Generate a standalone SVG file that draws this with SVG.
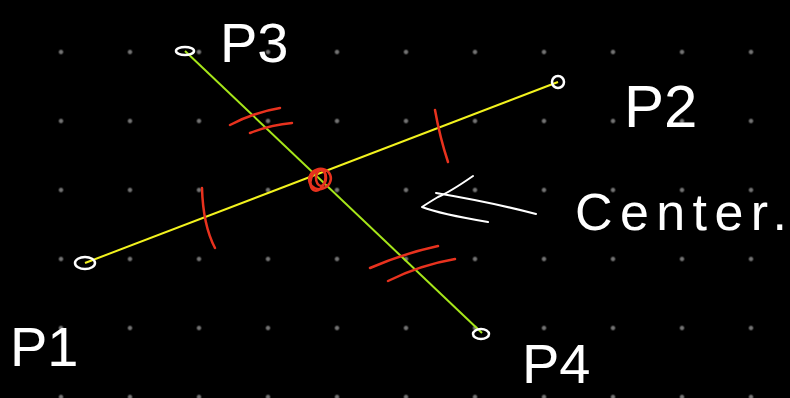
<svg xmlns="http://www.w3.org/2000/svg" width="790" height="398" viewBox="0 0 790 398">
<defs>
<pattern id="grid" x="26.5" y="17.5" width="69" height="69" patternUnits="userSpaceOnUse">
<circle cx="34.5" cy="34.5" r="2.2" fill="#737373"/>
</pattern>
<style>
.lbl{font-family:"Liberation Sans","DejaVu Sans",sans-serif;fill:#ffffff;font-weight:normal}
.ink{fill:none;stroke:#ffffff;stroke-width:2;stroke-linecap:round;stroke-linejoin:round}
.red{fill:none;stroke:#e8321e;stroke-width:2.5;stroke-linecap:round}
.pt{fill:none;stroke:#ffffff;stroke-width:2.5}
</style>
</defs>
<rect width="790" height="398" fill="#000000"/>
<rect width="790" height="398" fill="url(#grid)"/>
<g id="connectors">
<line x1="85" y1="263" x2="558" y2="82" stroke="#f2f21e" stroke-width="2"/>
<line x1="185" y1="51" x2="482" y2="333" stroke="#a6e61a" stroke-width="2"/>
<path class="red" d="M230 125 Q255 112 280 108 M250 133 Q270 125 292 123"/>
<path class="red" d="M370 268 Q405 253 438 246 M388 281 Q420 265 455 259"/>
<path class="red" d="M202 188 Q203 225 215 248"/>
<path class="red" d="M435 110 Q440 138 448 162"/>
</g>
<g id="center">
<ellipse cx="320" cy="179" rx="11" ry="10" class="red" stroke-width="3" transform="rotate(-20 320 179)"/>
<ellipse cx="318" cy="180" rx="7" ry="11" class="red" stroke-width="3" transform="rotate(20 318 180)"/>
<ellipse cx="321" cy="178" rx="5" ry="8" class="red" stroke-width="2.5"/>
</g>
<g id="P1">
<ellipse cx="85" cy="263" rx="10" ry="6" class="pt"/>
<text class="lbl" x="10" y="366" font-size="56">P1</text>
</g>
<g id="P2">
<circle cx="558" cy="82" r="6" class="pt" stroke-width="3.5"/>
<text class="lbl" x="624" y="127" font-size="60">P2</text>
</g>
<g id="P3">
<ellipse cx="185" cy="51" rx="9" ry="4" class="pt"/>
<text class="lbl" x="220" y="62" font-size="56">P3</text>
</g>
<g id="P4">
<ellipse cx="481" cy="334" rx="8" ry="5" class="pt"/>
<text class="lbl" x="522" y="383" font-size="56">P4</text>
</g>
<g id="center-label">
<path class="ink" d="M473 176 Q450 192 438 197 Q428 203 422 207 Q440 214 488 222 M436 193 Q490 202 536 214"/>
<text class="lbl" x="575" y="230" font-size="52" textLength="212" lengthAdjust="spacing">Center.</text>
</g>
</svg>
